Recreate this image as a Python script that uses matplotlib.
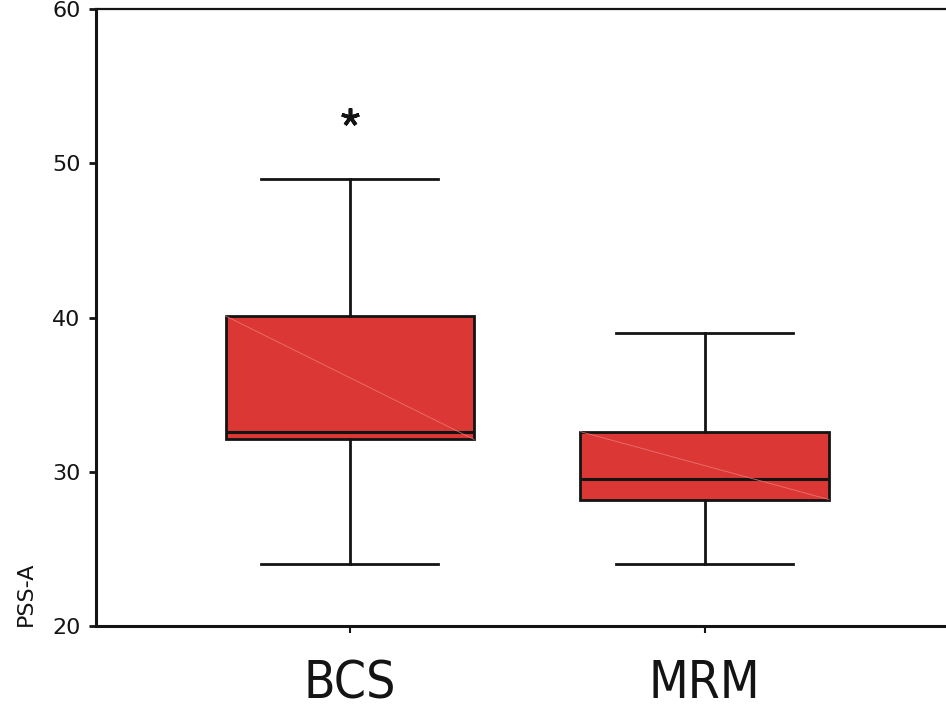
import matplotlib
matplotlib.use("Agg")
from matplotlib import pyplot as plt

# Five-number summaries for each group
groups = ["BCS", "MRM"]
whisker_low = [24.0, 24.0]
q1 = [32.1, 28.2]
median = [32.6, 29.5]
q3 = [40.1, 32.6]
whisker_high = [49.0, 39.0]
outliers = [[53.0], []]

box_color = "#DB3734"
ink = "#141414"

plt.rcParams["font.family"] = "DejaVu Sans"

fig = plt.figure(figsize=(9.46, 7.08), dpi=100)
ax = fig.add_axes([0.1015, 0.1158, 0.8985, 0.8715])

stats = []
for i, name in enumerate(groups):
    stats.append({
        "label": name,
        "whislo": whisker_low[i],
        "q1": q1[i],
        "med": median[i],
        "q3": q3[i],
        "whishi": whisker_high[i],
        "fliers": outliers[i],
    })

positions = list(range(1, len(groups) + 1))
bp = ax.bxp(stats, positions=positions, widths=0.70, patch_artist=True,
            showfliers=True,
            boxprops=dict(facecolor=box_color, edgecolor=ink, linewidth=2.0),
            medianprops=dict(color=ink, linewidth=2.2),
            whiskerprops=dict(color=ink, linewidth=2.0),
            capprops=dict(color=ink, linewidth=2.0),
            capwidths=0.5,
            flierprops=dict(marker=(5, 2, 0), markersize=13, markeredgewidth=2.6,
                            markeredgecolor=ink, markerfacecolor=ink))

# faint seam across each filled box
for i, p in enumerate(positions):
    ax.plot([p - 0.35, p + 0.35], [q3[i], q1[i]], color="#F08080",
            linewidth=0.6, alpha=0.8, zorder=2.5)

ax.set_xlim(0.285, 2.68)
ax.set_ylim(20, 60)
ax.set_yticks([20, 30, 40, 50, 60])
ax.set_xticks(positions)
ax.set_xticklabels(groups, fontsize=37, fontstretch="condensed")

ax.spines["right"].set_visible(False)
ax.spines["left"].set_linewidth(2.2)
ax.spines["bottom"].set_linewidth(2.2)
ax.spines["top"].set_linewidth(1.6)
for s in ax.spines.values():
    s.set_color(ink)

ax.tick_params(axis="y", length=5, width=2, labelsize=16, pad=6, colors=ink)
ax.tick_params(axis="x", length=5, width=1.5, pad=19, colors=ink)

ax.set_ylabel("PSS-A", fontsize=16, loc="bottom", labelpad=12, color=ink)

fig.savefig("out.png", dpi=100)
